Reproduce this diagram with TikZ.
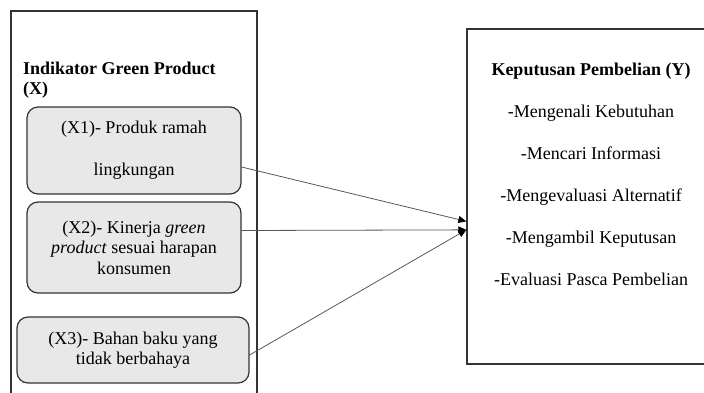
\documentclass[tikz,border=0pt]{standalone}
\usepackage{fontspec}
\setmainfont{Liberation Serif}
\usetikzlibrary{arrows.meta,calc}
\newcommand{\figfont}{\fontsize{18}{20.5}\selectfont}
\begin{document}
\begin{tikzpicture}[x=1pt,y=-1pt,
  every node/.style={font=\figfont},
  frame/.style={draw=black!80,line width=1.3pt,inner sep=0pt},
  indbox/.style={draw=black!80,line width=1.2pt,fill=black!9,rounded corners=11pt,align=center,inner sep=0pt},
  conn/.style={draw=black!65,line width=0.8pt,-{Triangle[length=8pt,width=7pt,fill=black,color=black]}}]
\useasboundingbox (0,0) rectangle (704,392);
\clip (0,0) rectangle (704,392);
\fill[white] (0,0) rectangle (704,392);
% outer frames
\node[frame,minimum width=246pt,minimum height=399pt] (xframe) at (134,210.5) {};
\node[frame,minimum width=263pt,minimum height=335pt] (yframe) at (598.5,196.5) {};
% left title
\node[anchor=north west,inner sep=0pt,align=left,font=\figfont\bfseries] (xtitle) at (23,61.5) {Indikator Green Product\\(X)};
% indicator boxes
\node[indbox,minimum width=214pt,minimum height=87pt] (x1) at (134,150.5) {(X1)- Produk ramah\\[21.5pt]lingkungan};
\node[indbox,minimum width=214pt,minimum height=91pt] (x2) at (134,247.5) {(X2)- Kinerja \textit{green}\\\textit{product} sesuai harapan\\konsumen};
\node[indbox,minimum width=232pt,minimum height=66pt] (x3) at (133,350) {(X3)- Bahan baku yang\\tidak berbahaya};
% right content
\node[anchor=north,inner sep=0pt,align=center] (ytext) at (591,62.5) {\textbf{Keputusan Pembelian (Y)}\\[21.5pt]-Mengenali Kebutuhan\\[21.5pt]-Mencari Informasi\\[21.5pt]-Mengevaluasi Alternatif\\[21.5pt]-Mengambil Keputusan\\[21.5pt]-Evaluasi Pasca Pembelian};
% connectors
\coordinate (t1) at ($(yframe.north west)+(0,193)$);
\coordinate (t2) at ($(yframe.north west)+(0,201.5)$);
\coordinate (s1) at ($(x1.east)+(0,16.5)$);
\coordinate (s2) at ($(x2.east)+(0,-17)$);
\coordinate (s3) at ($(x3.east)+(0,5)$);
\draw[conn] (s1) -- (t1);
\draw[conn] (s2) -- (t2);
\draw[conn] (s3) -- (t2);
\end{tikzpicture}
\end{document}
